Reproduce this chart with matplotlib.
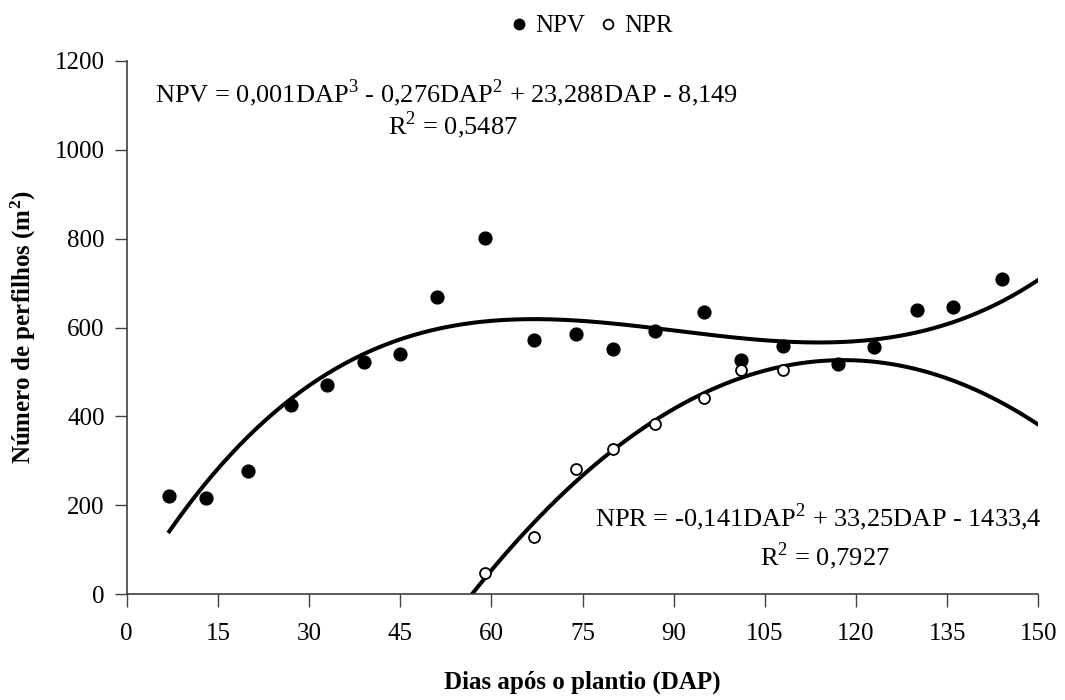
import numpy as np
import matplotlib
matplotlib.use("Agg")
import matplotlib.pyplot as plt
from matplotlib.lines import Line2D

# Dados
dap_npv = [7, 13, 20, 27, 33, 39, 45, 51, 59, 67, 74, 80, 87, 95, 101, 108, 117, 123, 130, 136, 144]
npv = [222, 216, 278, 425, 470, 523, 541, 669, 802, 572, 585, 552, 592, 635, 526, 559, 517, 556, 640, 646, 710]

dap_npr = [59, 67, 74, 80, 87, 95, 101, 108]
npr = [49, 130, 281, 328, 383, 441, 504, 505]

# coeficientes das linhas de tendência (maior grau primeiro)
npv_coef = [0.001017, -0.276, 23.288, -8.149]
npr_coef = [-0.141, 33.25, -1433.4]

x_ticks = [0, 15, 30, 45, 60, 75, 90, 105, 120, 135, 150]
y_ticks = [0, 200, 400, 600, 800, 1000, 1200]

plt.rcParams['font.family'] = ['Liberation Serif', 'DejaVu Serif']
plt.rcParams['mathtext.fontset'] = 'custom'
plt.rcParams['mathtext.rm'] = 'Liberation Serif'
plt.rcParams['mathtext.bf'] = 'Liberation Serif:bold'
FS = 18
FS_EQ = 19

W, H = 1065, 700
fig = plt.figure(figsize=(W / 100, H / 100), dpi=100)
ax = fig.add_axes([0.119, 0.151, 0.856, 0.762])


def px(x, y):
    # posição em pixels (a partir do topo) -> coordenadas da figura
    return x / W, 1 - y / H


# linhas de tendência
x1 = np.linspace(min(dap_npv), 150, 300)
ax.plot(x1, np.polyval(npv_coef, x1), color='black', lw=2.9, zorder=2)
r = np.roots(npr_coef)
x2 = np.linspace(r.min(), 150, 300)
ax.plot(x2, np.polyval(npr_coef, x2), color='black', lw=2.9, zorder=2)

ax.scatter(dap_npv, npv, s=85, color='black', zorder=3)
ax.scatter(dap_npr, npr, s=62, facecolor='white', edgecolor='black', linewidth=1.3, zorder=4)

ax.set_xlim(0, 150)
ax.set_ylim(0, 1200)
ax.set_xticks(x_ticks)
ax.set_yticks(y_ticks)
ax.tick_params(labelsize=FS, direction='out', length=9, width=1, color='#404040')
ax.tick_params(axis='x', pad=12)
ax.tick_params(axis='y', pad=7)
for s in ['top', 'right']:
    ax.spines[s].set_visible(False)
for s in ['left', 'bottom']:
    ax.spines[s].set_color('#404040')
    ax.spines[s].set_linewidth(1.2)

ax.set_xlabel('Dias após o plantio (DAP)', fontsize=FS, fontweight='bold', labelpad=18)
ax.set_ylabel(r'Número de perfilhos (m$\mathbf{^2}$)', fontsize=FS, fontweight='bold', labelpad=12)

# equações
fig.text(*px(155, 102), 'NPV = 0,001DAP$^3$ - 0,276DAP$^2$ + 23,288DAP - 8,149',
         fontsize=FS_EQ, ha='left', va='baseline')
fig.text(*px(388, 134), 'R$^2$ = 0,5487', fontsize=FS_EQ, ha='left', va='baseline')
fig.text(*px(595, 526), 'NPR = -0,141DAP$^2$ + 33,25DAP - 1433,4',
         fontsize=FS_EQ, ha='left', va='baseline')
fig.text(*px(760, 565), 'R$^2$ = 0,7927', fontsize=FS_EQ, ha='left', va='baseline')

handles = [
    Line2D([], [], ls='none', marker='o', ms=7.5, color='black'),
    Line2D([], [], ls='none', marker='o', ms=7, mfc='white', mec='black', mew=1.3),
]
fig.legend(handles, ['NPV', 'NPR'], loc='center', bbox_to_anchor=px(592, 26), ncol=2,
           frameon=False, fontsize=FS, handlelength=0.6, handletextpad=0.35,
           columnspacing=0.6, borderpad=0)

fig.savefig('out.png', dpi=100)
